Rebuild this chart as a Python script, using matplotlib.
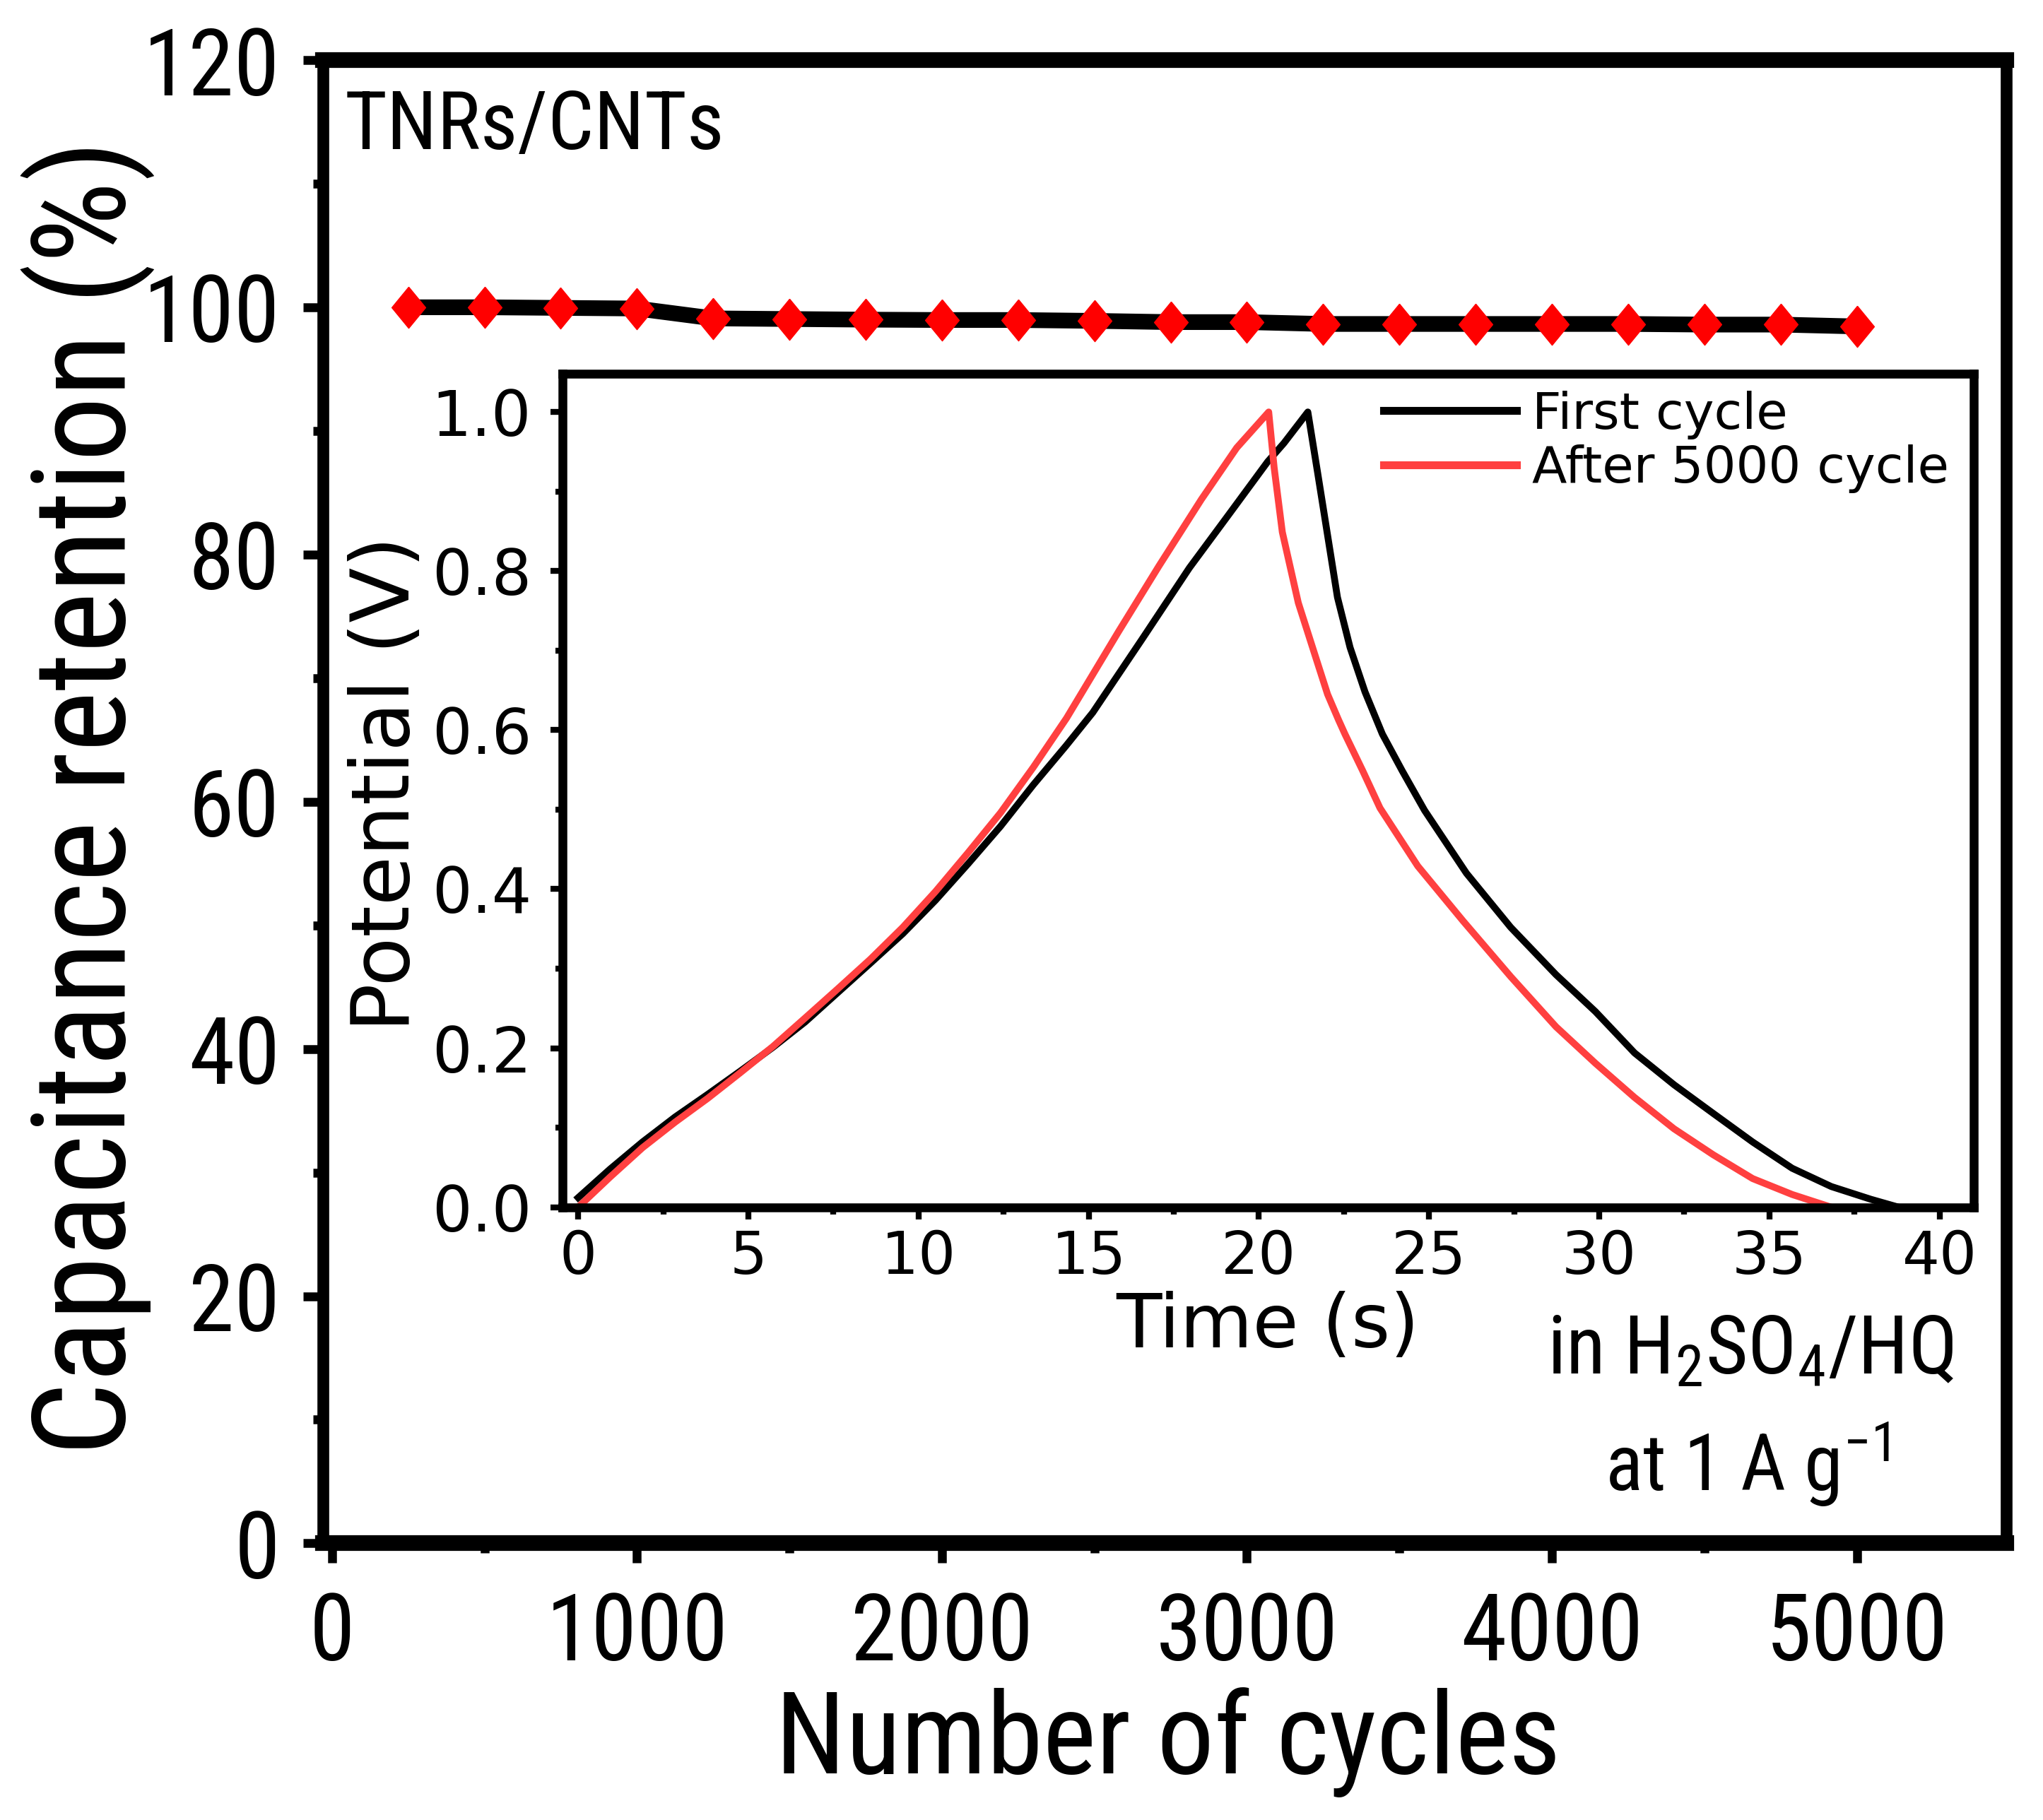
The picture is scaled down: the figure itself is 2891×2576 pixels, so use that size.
import matplotlib
matplotlib.use('Agg')
import matplotlib.pyplot as plt
from matplotlib.ticker import MultipleLocator, FormatStrFormatter

# 主軸のデータ（サイクル数と容量維持率）
cycles = [250, 500, 750, 1000, 1250, 1500, 1750, 2000, 2250, 2500,
          2750, 3000, 3250, 3500, 3750, 4000, 4250, 4500, 4750, 5000]
retention = [100.0, 100.0, 99.95, 99.9, 99.1, 99.05, 99.0, 98.97, 98.97, 98.9,
             98.8, 98.8, 98.65, 98.65, 98.65, 98.65, 98.65, 98.6, 98.6, 98.45]

# 挿入図のデータ（充放電曲線）
t_first = [0.0, 0.94, 1.89, 2.85, 3.81, 4.76, 5.72, 6.67, 7.63, 8.59, 9.54, 10.5,
           11.46, 12.41, 13.37, 14.33, 15.12, 16.58, 17.96, 19.1, 20.26, 20.74, 21.44,
           21.73, 22.02, 22.31, 22.68, 23.12, 23.63, 24.21, 24.87, 26.1, 27.4, 28.73,
           29.89, 31.04, 32.2, 33.35, 34.51, 35.67, 36.82, 37.98, 38.8]
v_first = [0.012, 0.048, 0.082, 0.1135, 0.142, 0.171, 0.201, 0.233, 0.27, 0.307, 0.344, 0.386,
           0.432, 0.479, 0.531, 0.58, 0.622, 0.715, 0.804, 0.87, 0.9375, 0.961, 1.0,
           0.923, 0.845, 0.767, 0.704, 0.648, 0.595, 0.549, 0.499, 0.42, 0.352, 0.2925,
           0.246, 0.194, 0.154, 0.118, 0.082, 0.049, 0.026, 0.010, 0.0]
t_after = [0.0, 0.94, 1.89, 2.85, 3.81, 4.76, 5.72, 6.67, 7.63, 8.59, 9.54, 10.5,
           11.46, 12.41, 13.37, 14.35, 15.88, 17.06, 18.31, 19.35, 20.29, 20.45, 20.69,
           21.16, 21.72, 22.02, 22.34, 22.53, 23.05, 23.56, 24.67, 26.0, 27.4, 28.73,
           29.89, 31.04, 32.2, 33.35, 34.51, 35.67, 36.82]
v_after = [0.0, 0.038, 0.0748, 0.107, 0.137, 0.169, 0.202, 0.238, 0.2747, 0.312, 0.352, 0.397,
           0.446, 0.496, 0.553, 0.615, 0.724, 0.806, 0.89, 0.955, 1.0, 0.93, 0.849,
           0.76, 0.685, 0.645, 0.613, 0.595, 0.549, 0.502, 0.429, 0.36, 0.29, 0.227,
           0.181, 0.138, 0.0986, 0.066, 0.036, 0.016, 0.0]

legend_labels = ['First cycle', 'After 5000 cycle']

NARROW = ['Roboto Condensed', 'Liberation Sans', 'DejaVu Sans']
WIDE = ['DejaVu Sans']

plt.rcParams['font.family'] = NARROW
plt.rcParams['mathtext.fontset'] = 'custom'
plt.rcParams['mathtext.rm'] = 'Roboto Condensed'
plt.rcParams['mathtext.it'] = 'Roboto Condensed'
plt.rcParams['mathtext.bf'] = 'Roboto Condensed'

# 縦長のダイヤ形マーカー
tall_diamond = [(0, 1), (0.82, 0), (0, -1), (-0.82, 0), (0, 1)]

fig = plt.figure(figsize=(14.455, 12.88), dpi=200)

# 主グラフ
ax = fig.add_axes([0.158, 0.152, 0.824, 0.815])
ax.plot(cycles, retention, color='black', linewidth=8, zorder=2)
ax.plot(cycles, retention, linestyle='none', marker=tall_diamond, markersize=21,
        markerfacecolor='#ff0000', markeredgecolor='#ff0000', markeredgewidth=0.5,
        zorder=3)

ax.set_xlim(-30, 5490)
ax.set_ylim(0, 120)
ax.xaxis.set_major_locator(MultipleLocator(1000))
ax.xaxis.set_minor_locator(MultipleLocator(500))
ax.yaxis.set_major_locator(MultipleLocator(20))
ax.yaxis.set_minor_locator(MultipleLocator(10))
ax.tick_params(which='both', direction='out', top=False, right=False, width=4.5)
ax.tick_params(which='major', length=10, labelsize=47)
ax.tick_params(which='minor', length=5)
ax.tick_params(axis='x', which='major', pad=14)
ax.tick_params(axis='y', which='major', pad=12)
for side in ['top', 'bottom']:
    ax.spines[side].set_linewidth(8)
for side in ['left', 'right']:
    ax.spines[side].set_linewidth(6)

ax.set_xlabel('Number of cycles', fontsize=58)
ax.set_ylabel('Capacitance retention (%)', fontsize=66)
ax.xaxis.set_label_coords(0.502, -0.097)
ax.yaxis.set_label_coords(-0.100, 0.503)

ax.text(0.013, 0.955, 'TNRs/CNTs', transform=ax.transAxes, fontsize=41.5,
        ha='left', va='center')
ax.text(0.969, 0.129, 'in H$_2$SO$_4$/HQ', transform=ax.transAxes, fontsize=41.5,
        ha='right', va='center')
ax.text(0.846, 0.053, 'at 1 A g$^{-1}$', transform=ax.transAxes, fontsize=40,
        ha='center', va='center')

# 挿入図
ins = fig.add_axes([0.2755, 0.3367, 0.6905, 0.4579])
ins.plot(t_first, v_first, color='black', linewidth=3.5, label=legend_labels[0])
ins.plot(t_after, v_after, color='#ff4040', linewidth=3.5, label=legend_labels[1])
ins.set_xlim(-0.45, 41.0)
ins.set_ylim(0, 1.048)
ins.xaxis.set_major_locator(MultipleLocator(5))
ins.xaxis.set_minor_locator(MultipleLocator(2.5))
ins.yaxis.set_major_locator(MultipleLocator(0.2))
ins.yaxis.set_minor_locator(MultipleLocator(0.1))
ins.yaxis.set_major_formatter(FormatStrFormatter('%.1f'))
ins.tick_params(which='both', direction='out', top=False, right=False, width=3)
ins.tick_params(which='major', length=6)
ins.tick_params(axis='x', which='major', pad=5, labelsize=30)
ins.tick_params(axis='y', which='major', pad=10, labelsize=32)
ins.tick_params(which='minor', length=3.5)
for lbl in ins.get_xticklabels() + ins.get_yticklabels():
    lbl.set_family(WIDE)
for spine in ins.spines.values():
    spine.set_linewidth(4.5)

ins.set_xlabel('Time (s)', fontsize=38, family=WIDE)
ins.set_ylabel('Potential (V)', fontsize=41, family=WIDE)
ins.xaxis.set_label_coords(0.4995, -0.1)
ins.yaxis.set_label_coords(-0.097, 0.508)

leg = ins.legend(loc='upper left', bbox_to_anchor=(0.582, 0.98), frameon=False,
                 prop={'family': WIDE, 'size': 26}, handlelength=2.6,
                 handletextpad=0.3, labelspacing=0.1, borderpad=0, borderaxespad=0)
for line in leg.get_lines():
    line.set_linewidth(4)

fig.savefig('out.png', dpi=200, facecolor='white')
